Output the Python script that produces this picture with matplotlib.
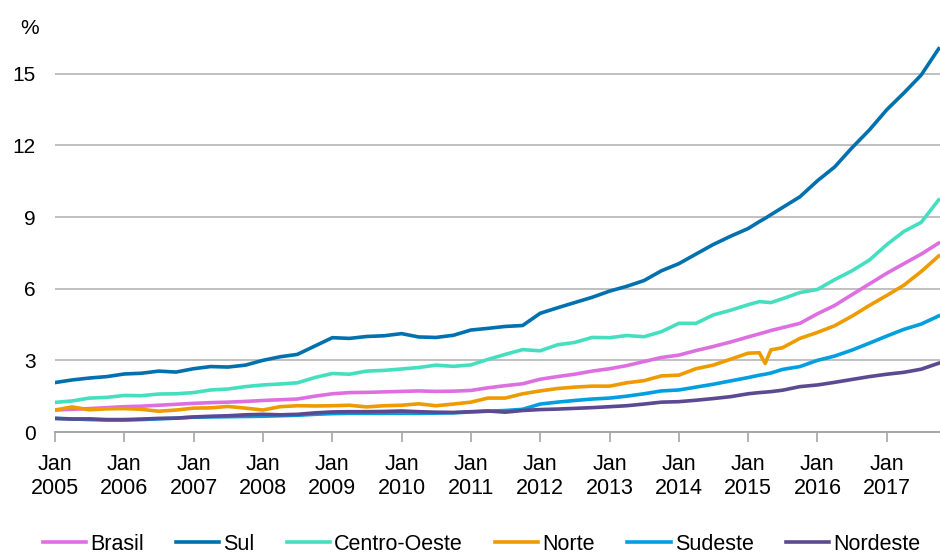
import pandas as pd
import matplotlib
matplotlib.use("Agg")
import matplotlib.pyplot as plt

plt.rcParams['font.family'] = ['Liberation Sans', 'DejaVu Sans']

# ------------------- DADOS (trimestrais) -------------------
datas = (
    [f"{a}-{m:02d}-01" for a in range(2005, 2015) for m in (1, 4, 7, 10)]
    + ["2015-01-01", "2015-03-01", "2015-04-01", "2015-05-01", "2015-07-01", "2015-10-01"]
    + [f"{a}-{m:02d}-01" for a in (2016, 2017) for m in (1, 4, 7, 10)]
)

brasil = [0.92, 0.95, 0.98, 1.02, 1.06, 1.08, 1.12, 1.16, 1.20, 1.23, 1.25, 1.28,
          1.32, 1.35, 1.38, 1.50, 1.60, 1.65, 1.66, 1.68, 1.70, 1.72, 1.70, 1.71,
          1.74, 1.85, 1.94, 2.02, 2.21, 2.32, 2.42, 2.55, 2.65, 2.78, 2.95, 3.12,
          3.22, 3.41, 3.58, 3.77, 3.98, 4.11, 4.18, 4.25, 4.37, 4.55,
          4.95, 5.30, 5.75, 6.20, 6.65, 7.05, 7.45, 7.91]
sul = [2.07, 2.18, 2.26, 2.32, 2.43, 2.46, 2.55, 2.51, 2.65, 2.74, 2.72, 2.80,
       3.00, 3.15, 3.25, 3.60, 3.95, 3.92, 4.00, 4.03, 4.12, 3.98, 3.96, 4.05,
       4.27, 4.34, 4.42, 4.46, 4.97, 5.20, 5.42, 5.64, 5.90, 6.10, 6.34, 6.75,
       7.05, 7.45, 7.85, 8.20, 8.52, 8.81, 8.95, 9.10, 9.40, 9.85,
       10.52, 11.10, 11.90, 12.65, 13.50, 14.20, 14.95, 16.05]
centro_oeste = [1.24, 1.30, 1.42, 1.45, 1.53, 1.52, 1.59, 1.60, 1.65, 1.76, 1.80, 1.90,
                1.97, 2.01, 2.06, 2.28, 2.45, 2.42, 2.55, 2.58, 2.64, 2.70, 2.80, 2.75,
                2.81, 3.04, 3.25, 3.45, 3.40, 3.65, 3.75, 3.96, 3.95, 4.04, 3.99, 4.20,
                4.55, 4.55, 4.90, 5.10, 5.33, 5.46, 5.44, 5.42, 5.58, 5.84,
                5.97, 6.38, 6.75, 7.20, 7.85, 8.40, 8.78, 9.72]
norte = [0.92, 1.05, 0.93, 0.97, 0.98, 0.95, 0.87, 0.92, 1.00, 1.01, 1.07, 1.00,
         0.92, 1.06, 1.10, 1.09, 1.10, 1.12, 1.05, 1.10, 1.12, 1.18, 1.10, 1.17,
         1.25, 1.42, 1.42, 1.60, 1.72, 1.82, 1.88, 1.92, 1.92, 2.06, 2.15, 2.35,
         2.38, 2.65, 2.80, 3.05, 3.30, 3.32, 2.87, 3.44, 3.53, 3.92,
         4.17, 4.45, 4.85, 5.30, 5.72, 6.15, 6.72, 7.37]
sudeste = [0.57, 0.55, 0.52, 0.50, 0.50, 0.52, 0.55, 0.58, 0.62, 0.63, 0.64, 0.65,
           0.66, 0.68, 0.70, 0.74, 0.77, 0.78, 0.78, 0.78, 0.78, 0.78, 0.79, 0.80,
           0.84, 0.87, 0.90, 0.95, 1.17, 1.25, 1.32, 1.38, 1.42, 1.50, 1.60, 1.72,
           1.76, 1.88, 2.00, 2.14, 2.28, 2.38, 2.42, 2.47, 2.62, 2.74,
           3.00, 3.18, 3.43, 3.72, 4.02, 4.30, 4.52, 4.86]
nordeste = [0.57, 0.54, 0.55, 0.52, 0.52, 0.54, 0.57, 0.58, 0.63, 0.66, 0.68, 0.72,
            0.74, 0.72, 0.74, 0.80, 0.84, 0.85, 0.85, 0.86, 0.88, 0.85, 0.83, 0.82,
            0.85, 0.88, 0.83, 0.90, 0.94, 0.96, 0.99, 1.02, 1.06, 1.10, 1.17, 1.25,
            1.27, 1.33, 1.40, 1.48, 1.60, 1.65, 1.67, 1.69, 1.75, 1.90,
            1.97, 2.08, 2.20, 2.32, 2.42, 2.50, 2.63, 2.88]

series = [
    ("Brasil", brasil, "#DE6FE0"),
    ("Sul", sul, "#0071AE"),
    ("Centro-Oeste", centro_oeste, "#45DFC0"),
    ("Norte", norte, "#EE9B00"),
    ("Sudeste", sudeste, "#009FDF"),
    ("Nordeste", nordeste, "#5B4A91"),
]

x = pd.to_datetime(datas)

# ------------------- GRÁFICO -------------------
fig = plt.figure(figsize=(9.4, 5.54), dpi=100)
ax = fig.add_axes([55 / 940, 122 / 554, 885 / 940, 394 / 554])

for nome, valores, cor in series:
    ax.plot(x, valores, color=cor, lw=2.6, label=nome)

ax.set_ylim(0, 16.5)
ax.set_yticks([0, 3, 6, 9, 12, 15])
ax.set_xlim(pd.Timestamp("2005-01-01"), pd.Timestamp("2017-10-08"))

anos = pd.date_range("2005-01-01", "2017-01-01", freq="YS")
ax.set_xticks(anos)
ax.set_xticklabels([f"Jan\n{d.year}" for d in anos], fontsize=15.5, linespacing=1.15)

ax.grid(axis="y", color="#C0C0C0", lw=1.4)
ax.set_axisbelow(True)
for lado in ["top", "right", "left"]:
    ax.spines[lado].set_visible(False)
ax.spines["bottom"].set_color("#A6A6A6")
ax.spines["bottom"].set_linewidth(1.4)

ax.tick_params(axis="y", length=0, pad=14, labelsize=15)
ax.tick_params(axis="x", direction="out", length=7, width=1.2, color="#A6A6A6", pad=9)

fig.text(30 / 940, 1 - 28 / 554, "%", fontsize=15, ha="center", va="center")

ax.legend(loc="center", bbox_to_anchor=(0.482, -0.285), ncol=6,
          frameon=False, fontsize=15.5, handlelength=2.0, handletextpad=0.2,
          columnspacing=1.5)

fig.savefig("out.png", dpi=100)
